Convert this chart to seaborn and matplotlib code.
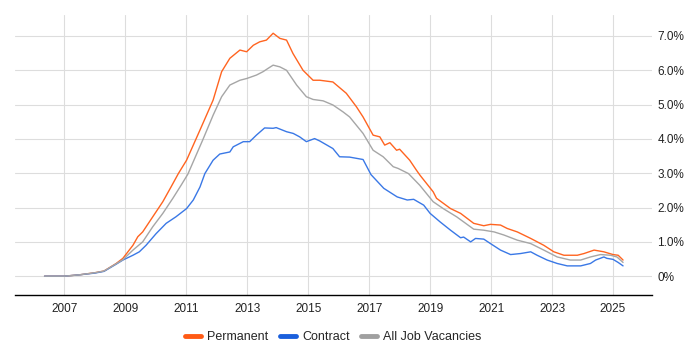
import matplotlib
matplotlib.use("Agg")
import matplotlib.pyplot as plt
import matplotlib.ticker as mticker
import pandas as pd
import seaborn as sns

# values (year, % of vacancies)
perm_year = [2006.35, 2007.0, 2007.5, 2008.0, 2008.3, 2008.7, 2008.92, 2009.25, 2009.41, 2009.57,
             2009.9, 2010.23, 2010.5, 2010.74, 2011.01, 2011.45, 2011.88, 2012.16, 2012.43, 2012.76,
             2012.98, 2013.2, 2013.41, 2013.63, 2013.85, 2014.07, 2014.29, 2014.5, 2014.83, 2015.16,
             2015.38, 2015.81, 2016.25, 2016.58, 2016.8, 2017.13, 2017.35, 2017.51, 2017.68, 2017.9,
             2018.0, 2018.33, 2018.55, 2018.67, 2019.1, 2019.21, 2019.67, 2020.0, 2020.43, 2020.76,
             2020.98, 2021.31, 2021.53, 2021.86, 2022.3, 2022.73, 2023.06, 2023.39, 2023.83, 2024.05,
             2024.38, 2024.7, 2025.0, 2025.17, 2025.33]
perm_pct = [0.0, 0.0, 0.04, 0.1, 0.15, 0.37, 0.52, 0.9, 1.15, 1.29,
            1.73, 2.17, 2.6, 2.99, 3.38, 4.26, 5.13, 5.96, 6.35, 6.59,
            6.54, 6.73, 6.83, 6.88, 7.08, 6.93, 6.88, 6.49, 6.0, 5.71,
            5.71, 5.66, 5.33, 4.94, 4.64, 4.11, 4.06, 3.82, 3.89, 3.67,
            3.70, 3.38, 3.09, 2.94, 2.46, 2.27, 1.97, 1.83, 1.54, 1.47,
            1.51, 1.49, 1.39, 1.29, 1.10, 0.90, 0.71, 0.61, 0.61, 0.66,
            0.76, 0.71, 0.63, 0.61, 0.47]

contract_year = [2006.35, 2007.0, 2007.5, 2008.0, 2008.3, 2008.7, 2008.92, 2009.25, 2009.46, 2009.68,
                 2010.01, 2010.34, 2010.66, 2011.01, 2011.23, 2011.45, 2011.61, 2011.88, 2012.1, 2012.43,
                 2012.54, 2012.87, 2013.08, 2013.3, 2013.57, 2013.85, 2013.95, 2014.29, 2014.51, 2014.72,
                 2014.94, 2015.21, 2015.38, 2015.81, 2016.03, 2016.36, 2016.8, 2017.06, 2017.48, 2017.92,
                 2018.25, 2018.46, 2018.79, 2019.0, 2019.33, 2019.67, 2020.0, 2020.1, 2020.33, 2020.49,
                 2020.76, 2020.98, 2021.31, 2021.64, 2021.97, 2022.3, 2022.51, 2022.84, 2023.17, 2023.5,
                 2023.94, 2024.26, 2024.43, 2024.7, 2024.8, 2025.0, 2025.17, 2025.33]
contract_pct = [0.0, 0.0, 0.04, 0.09, 0.14, 0.35, 0.47, 0.61, 0.71, 0.9,
                1.24, 1.54, 1.73, 1.97, 2.22, 2.6, 2.99, 3.38, 3.56, 3.62,
                3.77, 3.92, 3.92, 4.11, 4.32, 4.31, 4.33, 4.21, 4.16, 4.06,
                3.92, 4.01, 3.94, 3.72, 3.48, 3.47, 3.40, 2.96, 2.56, 2.31,
                2.22, 2.24, 2.07, 1.83, 1.58, 1.34, 1.12, 1.14, 1.0, 1.10,
                1.08, 0.95, 0.76, 0.63, 0.66, 0.71, 0.61, 0.47, 0.37, 0.30,
                0.30, 0.37, 0.47, 0.56, 0.52, 0.49, 0.40, 0.30]

all_year = [2006.35, 2007.0, 2007.5, 2008.0, 2008.3, 2008.7, 2008.92, 2009.25, 2009.57, 2009.9,
            2010.23, 2010.56, 2010.83, 2011.05, 2011.54, 2011.88, 2012.16, 2012.43, 2012.76, 2012.98,
            2013.3, 2013.52, 2013.69, 2013.85, 2014.07, 2014.29, 2014.62, 2014.94, 2015.16, 2015.49,
            2015.81, 2016.14, 2016.36, 2016.8, 2017.13, 2017.46, 2017.79, 2017.95, 2018.29, 2018.66,
            2019.1, 2019.43, 2019.87, 2020.43, 2020.76, 2021.1, 2021.42, 2021.86, 2022.3, 2022.73,
            2023.17, 2023.6, 2023.94, 2024.26, 2024.59, 2024.92, 2025.13, 2025.33]
all_pct = [0.0, 0.0, 0.04, 0.1, 0.15, 0.36, 0.48, 0.76, 1.0, 1.44,
           1.83, 2.27, 2.65, 2.97, 3.97, 4.69, 5.23, 5.57, 5.71, 5.76,
           5.86, 5.96, 6.06, 6.15, 6.10, 6.0, 5.57, 5.23, 5.15, 5.11,
           4.99, 4.79, 4.64, 4.16, 3.67, 3.48, 3.19, 3.14, 2.99, 2.65,
           2.17, 1.97, 1.73, 1.37, 1.34, 1.29, 1.20, 1.05, 0.95, 0.76,
           0.56, 0.47, 0.47, 0.56, 0.63, 0.61, 0.56, 0.40]

series_names = ["Permanent", "Contract", "All Job Vacancies"]
line_colors = ["#ff6420", "#3a78e6", "#a6a6a6"]
legend_colors = ["#ff5a14", "#1a5fdc", "#a0a0a0"]
year_ticks = [2007, 2009, 2011, 2013, 2015, 2017, 2019, 2021, 2023, 2025]
pct_ticks = [0, 1, 2, 3, 4, 5, 6, 7]

frames = []
for name, yr, pc in [(series_names[0], perm_year, perm_pct),
                     (series_names[1], contract_year, contract_pct),
                     (series_names[2], all_year, all_pct)]:
    frames.append(pd.DataFrame({"year": yr, "pct": pc, "series": name}))
df = pd.concat(frames, ignore_index=True)

sns.set_style("white")
plt.rcParams["font.family"] = ["Liberation Sans", "DejaVu Sans"]

fig = plt.figure(figsize=(7, 3.5), dpi=100)
ax = fig.add_axes([0.0214, 0.157, 0.9096, 0.8])

sns.lineplot(data=df, x="year", y="pct", hue="series", hue_order=series_names,
             palette=line_colors, linewidth=1.0, ax=ax, legend=False, sort=False)

ax.set_xlim(2005.38, 2026.27)
ax.set_ylim(-0.55, 7.61)
ax.set_xticks(year_ticks)
ax.set_xticklabels([str(y) for y in year_ticks])
ax.set_yticks(pct_ticks)
ax.yaxis.set_major_formatter(mticker.FuncFormatter(lambda v, p: "0%" if v == 0 else f"{v:.1f}%"))
ax.yaxis.tick_right()
ax.grid(True, color="#dddddd", linewidth=0.8)
ax.set_axisbelow(True)
for s in ["top", "right", "left"]:
    ax.spines[s].set_visible(False)
ax.spines["bottom"].set_color("#000000")
ax.spines["bottom"].set_linewidth(1.0)
ax.tick_params(axis="x", length=4, color="#dddddd", labelsize=8.5, pad=2, labelcolor="#222222")
ax.tick_params(axis="y", length=0, labelsize=8.5, pad=4, labelcolor="#222222")
ax.set_xlabel("")
ax.set_ylabel("")

handles = [plt.Line2D([], [], color=c, linewidth=3.5) for c in legend_colors]
fig.legend(handles, series_names, loc="lower center", bbox_to_anchor=(0.476, -0.012), ncol=3,
           frameon=False, fontsize=9, handlelength=1.3, handletextpad=0.5, columnspacing=0.9)

fig.savefig("out.png", dpi=100)
